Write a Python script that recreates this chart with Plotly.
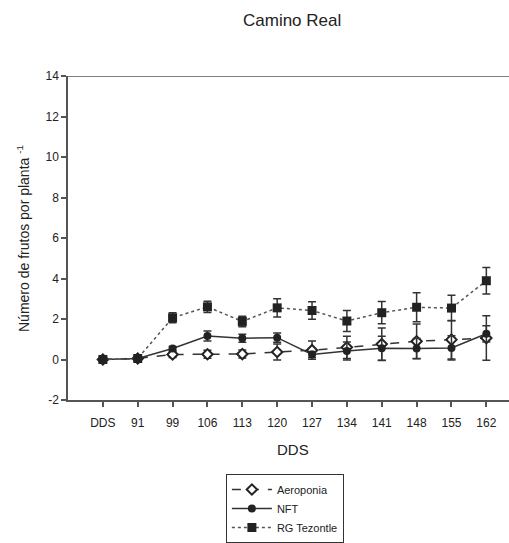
import plotly.graph_objects as go

categories = ["DDS", "91", "99", "106", "113", "120", "127", "134", "141", "148", "155", "162"]

aeroponia = [0.0, 0.05, 0.25, 0.26, 0.27, 0.37, 0.46, 0.60, 0.76, 0.90, 0.98, 1.06]
aeroponia_err = [0.0, 0.0, 0.15, 0.2, 0.2, 0.4, 0.45, 0.55, 0.8, 0.85, 0.95, 1.1]

nft = [0.0, 0.05, 0.54, 1.16, 1.05, 1.08, 0.25, 0.42, 0.55, 0.54, 0.57, 1.27]
nft_err = [0.0, 0.0, 0.1, 0.25, 0.2, 0.23, 0.15, 0.45, 0.6, 0.5, 0.6, 0.4]

rg_tezontle = [0.0, 0.05, 2.06, 2.6, 1.88, 2.55, 2.42, 1.9, 2.31, 2.58, 2.54, 3.89]
rg_err = [0.0, 0.0, 0.25, 0.28, 0.26, 0.45, 0.43, 0.52, 0.55, 0.72, 0.63, 0.65]

y_tickvals = [-2, 0, 2, 4, 6, 8, 10, 12, 14]
y_ticktext = ["-2", "0", "2", "4", "6", "8", "10", "12", "14"]

INK = "#222222"
font_family = "Liberation Sans, Arial, sans-serif"

fig = go.Figure()

fig.add_trace(go.Scatter(
    x=categories, y=aeroponia, name="Aeroponia", mode="lines+markers",
    line=dict(color="#333333", width=1.5, dash="dash"),
    marker=dict(symbol="diamond", size=8, color="white", line=dict(width=2, color=INK)),
    error_y=dict(type="data", array=aeroponia_err, color="#333333", thickness=1.5, width=4),
))
fig.add_trace(go.Scatter(
    x=categories, y=nft, name="NFT", mode="lines+markers",
    line=dict(color="#333333", width=1.5, dash="solid"),
    marker=dict(symbol="circle", size=8, color=INK),
    error_y=dict(type="data", array=nft_err, color="#333333", thickness=1.5, width=4),
))
fig.add_trace(go.Scatter(
    x=categories, y=rg_tezontle, name="RG Tezontle", mode="lines+markers",
    line=dict(color="#555555", width=1.5, dash="dot"),
    marker=dict(symbol="square", size=9, color=INK),
    error_y=dict(type="data", array=rg_err, color="#333333", thickness=1.5, width=4),
))

fig.update_layout(
    width=509, height=543,
    margin=dict(l=68, r=0, t=76, b=141),
    paper_bgcolor="white", plot_bgcolor="white",
    font=dict(family=font_family, size=12, color=INK),
    showlegend=True,
    legend=dict(
        x=0.358, y=-0.23, xanchor="left", yanchor="top",
        bordercolor="#333333", borderwidth=1, bgcolor="white",
        font=dict(size=11, color=INK), itemwidth=40,
        tracegroupgap=0,
    ),
    xaxis=dict(
        type="category", range=[-1, 11.65],
        showline=True, linecolor="#555555", linewidth=1.5,
        ticks="outside", ticklen=5, tickcolor="#555555", tickwidth=1.5,
        showgrid=False, zeroline=False, ticklabelstandoff=6,
        tickfont=dict(size=12, color=INK),
    ),
    yaxis=dict(
        range=[-2, 14], tickvals=y_tickvals, ticktext=y_ticktext,
        showline=True, linecolor="#555555", linewidth=1.5,
        ticks="outside", ticklen=5, tickcolor="#555555", tickwidth=1.5,
        showgrid=False, zeroline=False,
        tickfont=dict(size=12, color=INK),
    ),
    shapes=[dict(type="line", xref="paper", yref="y", x0=0, x1=1, y0=14, y1=14,
                 line=dict(color="#555555", width=1.5))],
    annotations=[
        dict(text="Camino Real", xref="paper", yref="paper", x=(292 - 68) / 441,
             y=1 + (76 - 20) / 326, xanchor="center", yanchor="middle",
             showarrow=False, font=dict(size=17, color=INK)),
        dict(text="DDS", xref="paper", yref="paper", x=(293 - 68) / 441,
             y=-(452 - 402) / 326, xanchor="center", yanchor="middle",
             showarrow=False, font=dict(size=15, color=INK)),
        dict(text="Número de frutos por planta <sup>-1</sup>", xref="paper", yref="paper",
             x=-(68 - 23) / 441, y=(402 - 240) / 326, xanchor="center", yanchor="middle",
             textangle=-90, showarrow=False, font=dict(size=14, color=INK)),
    ],
)

fig.write_html("out.html")
